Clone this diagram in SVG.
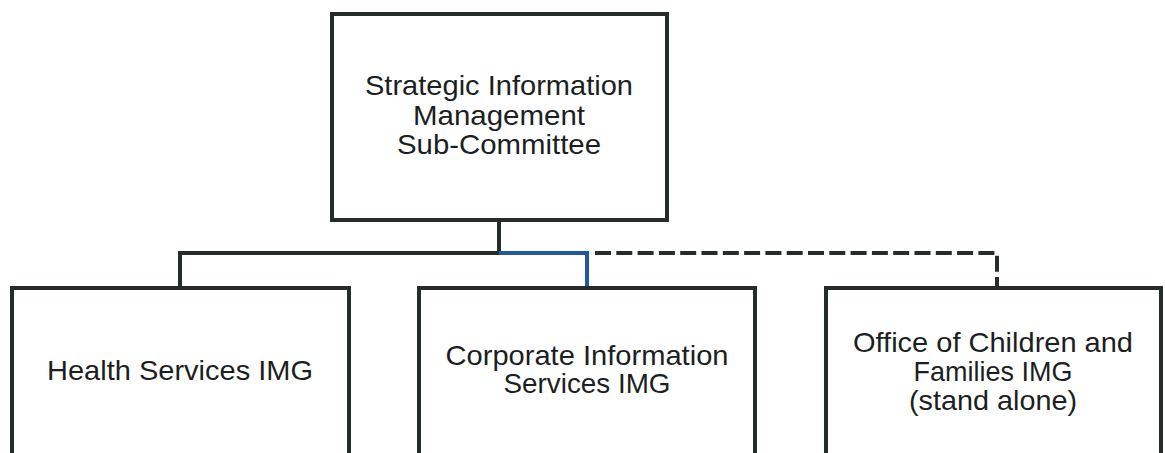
<svg xmlns="http://www.w3.org/2000/svg" width="1165" height="453" viewBox="0 0 1165 453">
  <style>
    .box { fill: #ffffff; stroke: #262b2b; stroke-width: 4; }
    .lbl { font-family: "Liberation Sans", Arial, sans-serif; font-size: 28px; fill: #1c1f1f; text-anchor: middle; }
    .link { fill: none; stroke: #262b2b; stroke-width: 4; stroke-linejoin: miter; stroke-linecap: butt; }
    .link.blue { stroke: #1f5a9e; }
    .link.dashed { stroke-dasharray: 16 5.3; }
  </style>
  <rect width="1165" height="453" fill="#ffffff"/>

  <g id="connectors">
    <path class="link" d="M499,220 V253"/>
    <path class="link" d="M180,288 V253 H499"/>
    <path class="link blue" d="M499,253 H587 V288"/>
    <path class="link dashed" d="M595,253 H997 V288"/>
  </g>

  <g id="sim-subcommittee">
    <rect class="box" x="332" y="14" width="335" height="206"/>
    <text class="lbl" x="499" y="95" textLength="268" lengthAdjust="spacingAndGlyphs">Strategic Information</text>
    <text class="lbl" x="499" y="125" textLength="172" lengthAdjust="spacingAndGlyphs">Management</text>
    <text class="lbl" x="499" y="154" textLength="204" lengthAdjust="spacingAndGlyphs">Sub-Committee</text>
  </g>

  <g id="health-services-img">
    <rect class="box" x="12" y="288" width="337" height="180"/>
    <text class="lbl" x="180" y="380" textLength="266" lengthAdjust="spacingAndGlyphs">Health Services IMG</text>
  </g>

  <g id="corporate-info-services-img">
    <rect class="box" x="419" y="288" width="336" height="180"/>
    <text class="lbl" x="587" y="365" textLength="283" lengthAdjust="spacingAndGlyphs">Corporate Information</text>
    <text class="lbl" x="587" y="393" textLength="167" lengthAdjust="spacingAndGlyphs">Services IMG</text>
  </g>

  <g id="children-families-img">
    <rect class="box" x="826" y="288" width="335" height="180"/>
    <text class="lbl" x="993" y="352" textLength="280" lengthAdjust="spacingAndGlyphs">Office of Children and</text>
    <text class="lbl" x="993" y="381" textLength="159" lengthAdjust="spacingAndGlyphs">Families IMG</text>
    <text class="lbl" x="993" y="410" textLength="168" lengthAdjust="spacingAndGlyphs">(stand alone)</text>
  </g>
</svg>
